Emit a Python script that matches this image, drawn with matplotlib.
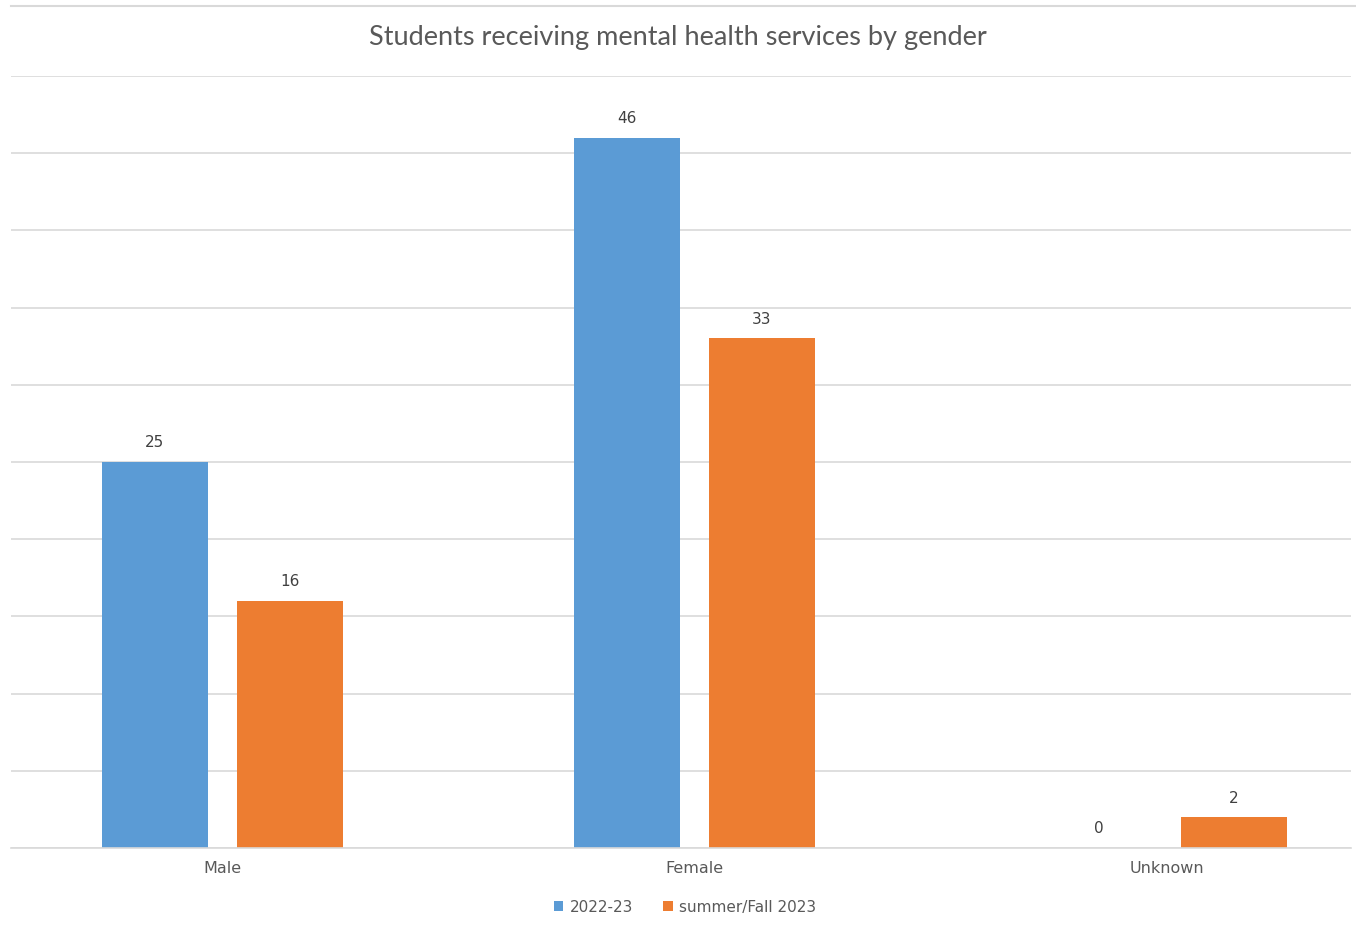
import matplotlib
matplotlib.use("Agg")
import matplotlib.pyplot as plt
import numpy as np

categories = ["Male", "Female", "Unknown"]
series_names = ["2022-23", "summer/Fall 2023"]
values_2022 = [25, 46, 0]
values_2023 = [16, 33, 2]
colors = ["#5b9bd5", "#ed7d31"]

fig = plt.figure(figsize=(13.56, 9.28), dpi=100)
ax = fig.add_axes([11 / 1356, 79 / 928, 1340 / 1356, 772 / 928])

x = np.arange(len(categories))
width = 0.223
offset = 0.143

bars1 = ax.bar(x - offset, values_2022, width, color=colors[0], label=series_names[0], zorder=2)
bars2 = ax.bar(x + offset, values_2023, width, color=colors[1], label=series_names[1], zorder=2)

for bars in (bars1, bars2):
    for b in bars:
        h = b.get_height()
        ax.annotate(f"{h:g}", (b.get_x() + b.get_width() / 2, h),
                    xytext=(0, 9), textcoords="offset points",
                    ha="center", va="bottom", fontsize=11, color="#404040")

ax.set_xlim(-0.448, 2.391)
ax.set_ylim(0, 50)
ax.set_yticks(np.arange(0, 51, 5))
ax.yaxis.grid(True, color="#d9d9d9", linewidth=1.2, zorder=0)
ax.set_yticklabels([])
ax.tick_params(axis="y", length=0)
ax.set_xticks(x)
ax.set_xticklabels(categories, fontsize=11.5, color="#595959")
ax.tick_params(axis="x", length=0, pad=8.5)
for s in ["top", "right", "left"]:
    ax.spines[s].set_visible(False)
ax.spines["bottom"].set_color("#d9d9d9")
ax.spines["bottom"].set_linewidth(1.2)

# top border line
fig.add_artist(plt.Line2D([11 / 1356, 1.0], [1 - 7 / 928, 1 - 7 / 928],
                          color="#d9d9d9", linewidth=1.5))

fig.text(0.5, 1 - 37 / 928, "Students receiving mental health services by gender",
         ha="center", va="center", fontsize=19.5, color="#595959", family="Lato")

fig.legend(loc="center", bbox_to_anchor=(685 / 1356, 1 - 908 / 928), ncol=2,
           frameon=False, fontsize=11, handlelength=0.6, handleheight=0.6,
           handletextpad=0.4, columnspacing=2.0, labelcolor="#595959")

fig.savefig("out.png", dpi=100, facecolor="white")
